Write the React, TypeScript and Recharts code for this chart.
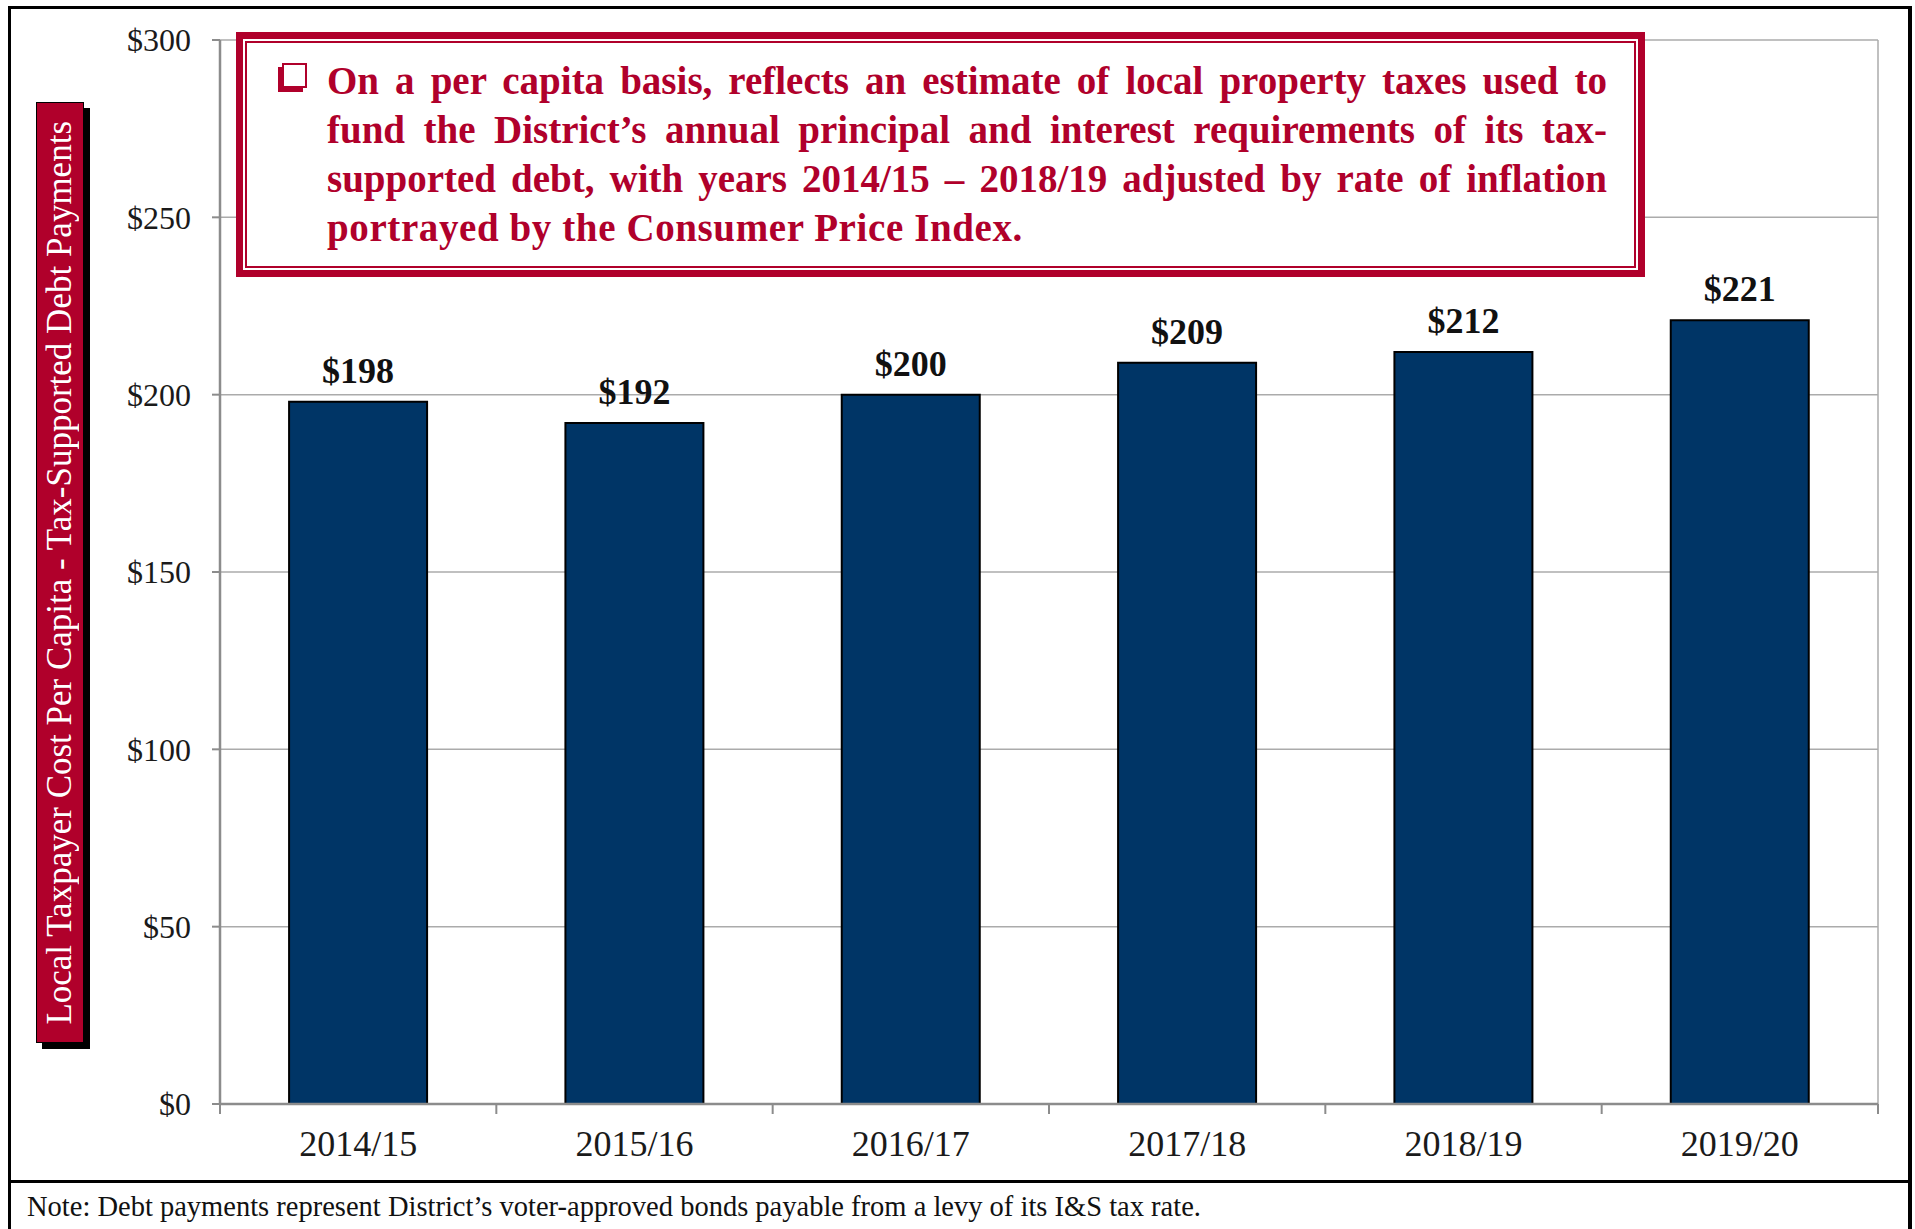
import React from 'react';
import { BarChart, Bar, XAxis, YAxis, CartesianGrid, LabelList } from 'recharts';

const categories = ['2014/15', '2015/16', '2016/17', '2017/18', '2018/19', '2019/20'];
const costPerCapita = [198, 192, 200, 209, 212, 221];
const yTicks = [0, 50, 100, 150, 200, 250, 300];
const calloutLines = [
  'On a per capita basis, reflects an estimate of local property taxes used to',
  'fund the District\u2019s annual principal and interest requirements of its tax-',
  'supported debt, with years 2014/15 \u2013 2018/19 adjusted by rate of inflation',
  'portrayed by the Consumer Price Index.',
];
const yAxisTitle = 'Local Taxpayer Cost Per Capita - Tax-Supported Debt Payments';
const noteText = 'Note: Debt payments represent District\u2019s voter-approved bonds payable from a levy of its I&S tax rate.';

const data = categories.map((c, i) => ({ year: c, value: costPerCapita[i] }));

const SERIF = '"Liberation Serif", "DejaVu Serif", serif';
const RED = '#B0002B';
const NAVY = '#003566';
const AXIS = '#8C8C8C';
const GRID = '#ABABAB';
const TICK = 10;

function XTick(props: any) {
  const { x, y, payload, index, width, visibleTicksCount } = props;
  const n = visibleTicksCount || categories.length;
  const half = payload && payload.offset > 0 ? payload.offset : width / n / 2;
  const axisY = y - TICK;
  return (
    <g>
      <line x1={x - half} x2={x - half} y1={axisY} y2={axisY + TICK} stroke={AXIS} strokeWidth={2} />
      {index === n - 1 && (
        <line x1={x + half} x2={x + half} y1={axisY} y2={axisY + TICK} stroke={AXIS} strokeWidth={2} />
      )}
      <text x={x} y={axisY + 52} textAnchor="middle" fontSize={36} fontFamily={SERIF} fill="#1a1a1a">
        {payload.value}
      </text>
    </g>
  );
}

export default function App() {
  return (
    <div
      style={{
        position: 'absolute',
        left: 0,
        top: 0,
        width: 1915,
        height: 1229,
        overflow: 'hidden',
        background: '#fff',
        fontFamily: SERIF,
      }}
    >
      <div style={{ position: 'absolute', left: 0, top: 0 }}>
        <BarChart
          width={1915}
          height={1181}
          data={data}
          margin={{ top: 40, right: 37, bottom: 0, left: 0 }}
          barCategoryGap="25%"
        >
          <CartesianGrid
            stroke={GRID}
            strokeWidth={1.5}
            vertical={true}
            verticalCoordinatesGenerator={(p: any) => [p.offset.left + p.offset.width]}
          />
          <XAxis
            dataKey="year"
            height={77}
            tickLine={false}
            tickSize={TICK}
            tickMargin={0}
            axisLine={{ stroke: AXIS, strokeWidth: 2.5 }}
            tick={<XTick />}
            interval={0}
          />
          <YAxis
            width={220}
            domain={[0, 300]}
            ticks={yTicks}
            tickSize={8}
            tickMargin={21}
            tickLine={{ stroke: AXIS, strokeWidth: 2 }}
            axisLine={{ stroke: AXIS, strokeWidth: 2.5 }}
            tickFormatter={(v: number) => `$${v}`}
            tick={{ fontSize: 32, fill: '#1a1a1a', fontFamily: SERIF }}
            interval={0}
          />
          <Bar dataKey="value" fill={NAVY} stroke="#000" strokeWidth={2} isAnimationActive={false}>
            <LabelList
              dataKey="value"
              position="top"
              offset={19}
              formatter={(v: any) => `$${v}`}
              fill="#111"
              fontSize={36}
              fontWeight="bold"
              fontFamily={SERIF}
            />
          </Bar>
        </BarChart>
      </div>

      {/* Y-axis title box */}
      <div
        style={{
          position: 'absolute',
          left: 36,
          top: 102,
          width: 46,
          height: 939,
          background: RED,
          border: '1px solid #000',
          boxShadow: '6px 6px 0 #000',
          display: 'flex',
          alignItems: 'center',
          justifyContent: 'center',
        }}
      >
        <div
          style={{
            writingMode: 'vertical-rl',
            transform: 'rotate(180deg)',
            color: '#fff',
            fontSize: 35,
            whiteSpace: 'nowrap',
            lineHeight: '46px',
          }}
        >
          {yAxisTitle}
        </div>
      </div>

      {/* Callout box */}
      <div
        style={{
          position: 'absolute',
          left: 236,
          top: 32,
          width: 1409,
          height: 245,
          boxSizing: 'border-box',
          border: `7px solid ${RED}`,
          padding: 2,
          background: '#fff',
        }}
      >
        <div
          style={{
            position: 'relative',
            width: '100%',
            height: '100%',
            boxSizing: 'border-box',
            border: `2px solid ${RED}`,
          }}
        >
          <div
            style={{
              position: 'absolute',
              left: 35,
              top: 20,
              width: 21,
              height: 21,
              border: `2px solid ${RED}`,
              boxShadow: `-4px 4px 0 ${RED}`,
              background: '#fff',
            }}
          />
          <div
            style={{
              position: 'absolute',
              left: 80,
              top: 13,
              width: 1280,
              color: RED,
              fontWeight: 'bold',
              fontSize: 39,
              lineHeight: '49px',
            }}
          >
            {calloutLines.map((line, i) => {
              const last = i === calloutLines.length - 1;
              return (
                <div
                  key={i}
                  style={{
                    textAlign: 'justify',
                    textAlignLast: last ? 'left' : 'justify',
                    whiteSpace: 'nowrap',
                    letterSpacing: last ? '0.6px' : undefined,
                  }}
                >
                  {line}
                </div>
              );
            })}
          </div>
        </div>
      </div>

      {/* Outer frame */}
      <div
        style={{
          position: 'absolute',
          left: 8,
          top: 6,
          width: 1904,
          height: 1300,
          boxSizing: 'border-box',
          borderTop: '3px solid #000',
          borderLeft: '3px solid #000',
          borderRight: '4px solid #000',
          pointerEvents: 'none',
        }}
      />
      {/* Separator line above note */}
      <div
        style={{
          position: 'absolute',
          left: 8,
          top: 1180,
          width: 1904,
          height: 3,
          background: '#000',
        }}
      />
      {/* Note */}
      <div
        style={{
          position: 'absolute',
          left: 27,
          top: 1190,
          fontSize: 28.5,
          color: '#111',
          whiteSpace: 'nowrap',
          lineHeight: '34px',
        }}
      >
        {noteText}
      </div>
    </div>
  );
}
